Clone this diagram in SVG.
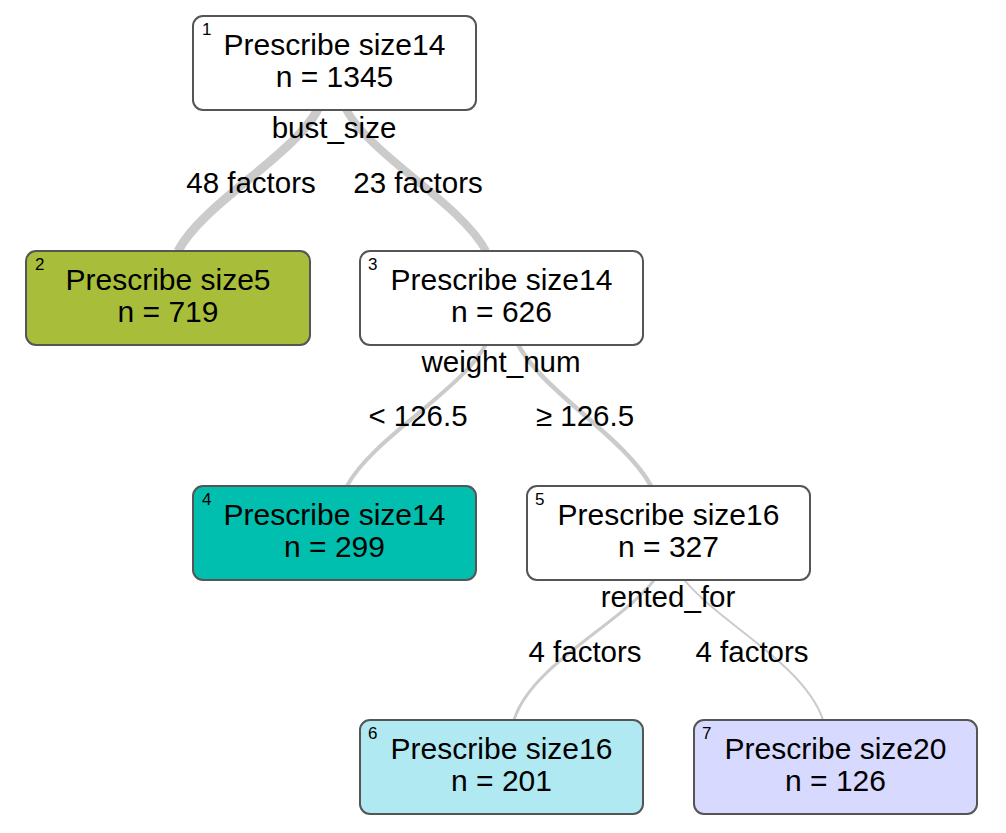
<svg xmlns="http://www.w3.org/2000/svg" width="1006" height="833" viewBox="0 0 1006 833">
<style>
text{font-family:"Liberation Sans",Arial,Helvetica,sans-serif;fill:#000}
.t{font-size:30px;text-anchor:middle}
.n{font-size:17px}
.lab{font-size:29.5px;text-anchor:middle}
.box{stroke:#555;stroke-width:2}
.e{fill:none;stroke:#cbcbcb;stroke-linecap:butt}
</style>
<rect width="1006" height="833" fill="#fff"/>
<g id="connectors">
<path class="e" stroke-width="9" d="M322 100 C305 150,205 200,178 251"/>
<path class="e" stroke-width="8" d="M342 100 C359 150,459 200,486 251"/>
<path class="e" stroke-width="4" d="M490 335 C473 385,374 435,347 486"/>
<path class="e" stroke-width="4.5" d="M514 335 C531 385,624 435,651 486"/>
<path class="e" stroke-width="3" d="M660 572 C630 620,532 662,514 720"/>
<path class="e" stroke-width="2" d="M678 572 C712 620,804 662,823 720"/>
</g>
<g id="labels">
<text class="lab" x="334" y="138">bust_size</text>
<text class="lab" x="251" y="193">48 factors</text>
<text class="lab" x="418" y="193">23 factors</text>
<text class="lab" x="501" y="372">weight_num</text>
<text class="lab" x="418" y="426">&lt; 126.5</text>
<text class="lab" x="585" y="426">≥ 126.5</text>
<text class="lab" x="668" y="607">rented_for</text>
<text class="lab" x="585" y="662">4 factors</text>
<text class="lab" x="752" y="662">4 factors</text>
</g>
<g id="node1">
<rect class="box" x="193" y="16" width="283" height="94" rx="10" fill="#fff"/>
<text class="n" x="202" y="35">1</text>
<text class="t" x="334.5" y="55">Prescribe size14</text>
<text class="t" x="334.5" y="87">n = 1345</text>
</g>
<g id="node2">
<rect class="box" x="26" y="251" width="284" height="94" rx="10" fill="#a8bd3a"/>
<text class="n" x="35" y="270">2</text>
<text class="t" x="168" y="290">Prescribe size5</text>
<text class="t" x="168" y="322">n = 719</text>
</g>
<g id="node3">
<rect class="box" x="360" y="251" width="283" height="94" rx="10" fill="#fff"/>
<text class="n" x="368" y="270">3</text>
<text class="t" x="501.5" y="290">Prescribe size14</text>
<text class="t" x="501.5" y="322">n = 626</text>
</g>
<g id="node4">
<rect class="box" x="193" y="486" width="283" height="94" rx="10" fill="#00bfae"/>
<text class="n" x="202" y="505">4</text>
<text class="t" x="334.5" y="525">Prescribe size14</text>
<text class="t" x="334.5" y="557">n = 299</text>
</g>
<g id="node5">
<rect class="box" x="527" y="486" width="283" height="94" rx="10" fill="#fff"/>
<text class="n" x="535" y="505">5</text>
<text class="t" x="668.5" y="525">Prescribe size16</text>
<text class="t" x="668.5" y="557">n = 327</text>
</g>
<g id="node6">
<rect class="box" x="360" y="720" width="283" height="94" rx="10" fill="#b1e9f3"/>
<text class="n" x="368" y="739">6</text>
<text class="t" x="501.5" y="759">Prescribe size16</text>
<text class="t" x="501.5" y="791">n = 201</text>
</g>
<g id="node7">
<rect class="box" x="694" y="720" width="283" height="94" rx="10" fill="#d8d9fe"/>
<text class="n" x="702" y="739">7</text>
<text class="t" x="835.5" y="759">Prescribe size20</text>
<text class="t" x="835.5" y="791">n = 126</text>
</g>
</svg>
